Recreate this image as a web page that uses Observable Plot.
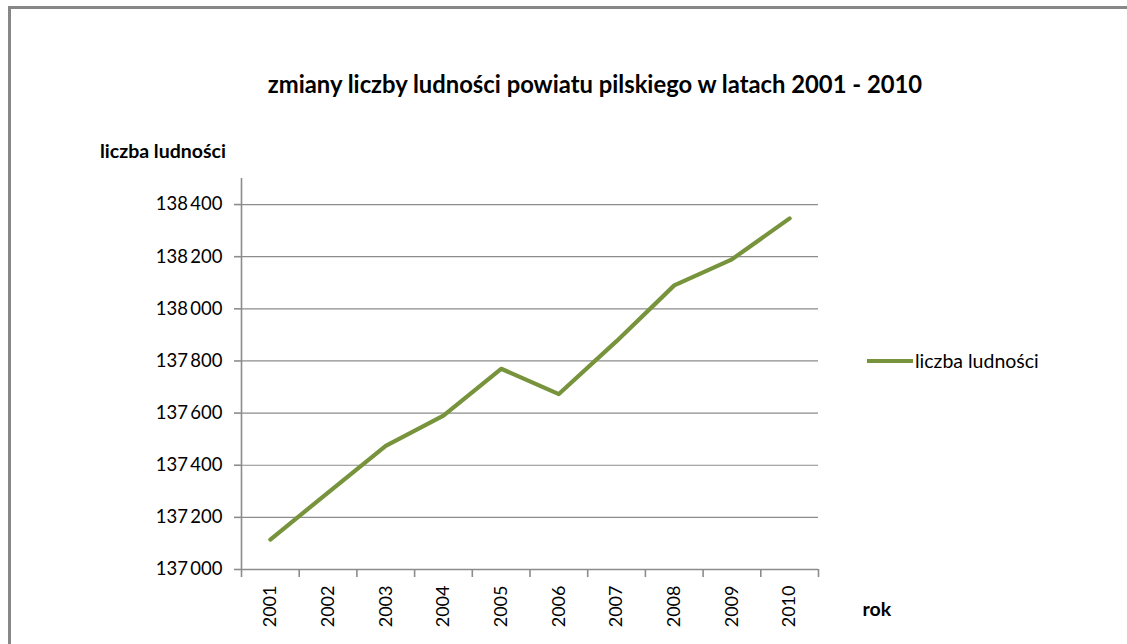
<!DOCTYPE html>
<html>
<head>
<meta charset="utf-8">
<script src="https://cdn.jsdelivr.net/npm/d3@7"></script>
<script src="https://cdn.jsdelivr.net/npm/@observablehq/plot@0.6"></script>
<style>
  html, body { margin: 0; padding: 0; background: #fff; }
  body { width: 1127px; height: 644px; overflow: hidden; position: relative; font-family: Lato, "Open Sans", sans-serif; color: #000; }
  #frame { position: absolute; left: 8px; top: 6px; right: -10px; bottom: -10px; border-top: 3px solid #878787; border-left: 3px solid #878787; }
  #header { position: relative; height: 165px; }
  #title { position: absolute; left: 0; width: 1190px; top: 70px; text-align: center; font-weight: bold; font-size: 23.8px; white-space: nowrap; }
  #ylabel { position: absolute; left: 100px; top: 139px; font-weight: bold; font-size: 19.5px; white-space: nowrap; }
  #legend { position: absolute; left: 867px; top: 349px; display: flex; align-items: center; font-size: 19.5px; white-space: nowrap; }
  #legend .sw { width: 46px; height: 4px; background: #77933C; margin-right: 2px; }
  #chart { position: absolute; left: 0; top: 165px; }
</style>
</head>
<body>
<div id="frame"></div>
<div id="header">
  <div id="title">zmiany liczby ludności powiatu pilskiego w latach 2001 - 2010</div>
  <div id="ylabel">liczba ludności</div>
</div>
<div id="legend"><div class="sw"></div><span>liczba ludności</span></div>
<div id="chart"></div>
<script>
const years = [2001, 2002, 2003, 2004, 2005, 2006, 2007, 2008, 2009, 2010];
const population = [137115, 137295, 137474, 137590, 137770, 137673, 137876, 138090, 138190, 138347];
const yTicks = [137000, 137200, 137400, 137600, 137800, 138000, 138200, 138400];
const seriesName = "liczba ludności";
const xLabel = "rok";

const data = years.map((y, i) => ({year: y, value: population[i]}));
const edges = d3.range(years[0] - 0.5, years[years.length - 1] + 1, 1);
const fmt = v => d3.format(",")(v).replace(/,/g, "\u2009");
const grid = "#8c8c8c";

const chart = Plot.plot({
  width: 1127,
  height: 479,
  marginTop: 13,
  marginBottom: 75,
  marginLeft: 241,
  marginRight: 309,
  style: {fontFamily: "Lato, 'Open Sans', sans-serif", fontSize: "18px", color: "#000", background: "transparent"},
  x: {domain: [years[0] - 0.5, years[years.length - 1] + 0.5], axis: null},
  y: {domain: [137000, 138500], axis: null},
  marks: [
    Plot.ruleY(yTicks.slice(1), {stroke: grid, strokeWidth: 1.2}),
    Plot.ruleX([years[0] - 0.5], {stroke: grid, strokeWidth: 1.6}),
    Plot.ruleY([137000], {stroke: grid, strokeWidth: 1.6}),
    Plot.axisY({ticks: yTicks, tickFormat: fmt, tickSize: 7, tickPadding: 12, stroke: grid, strokeWidth: 1.6, label: null, fontSize: 18.5}),
    Plot.axisX({ticks: edges, tickFormat: () => "", tickSize: 8, stroke: grid, strokeWidth: 1.6, label: null}),
    Plot.axisX({ticks: years, tickFormat: d => String(d), tickSize: 0, tickPadding: 16, tickRotate: -90, label: null, fontSize: 18}),
    Plot.line(data, {x: "year", y: "value", stroke: "#77933C", strokeWidth: 4.2, strokeLinejoin: "round", strokeLinecap: "round"}),
    Plot.text([xLabel], {frameAnchor: "bottom-right", dx: 44, dy: 46, textAnchor: "start", fontWeight: "bold", fontSize: 19.5})
  ]
});
document.getElementById("chart").appendChild(chart);
</script>
</body>
</html>
